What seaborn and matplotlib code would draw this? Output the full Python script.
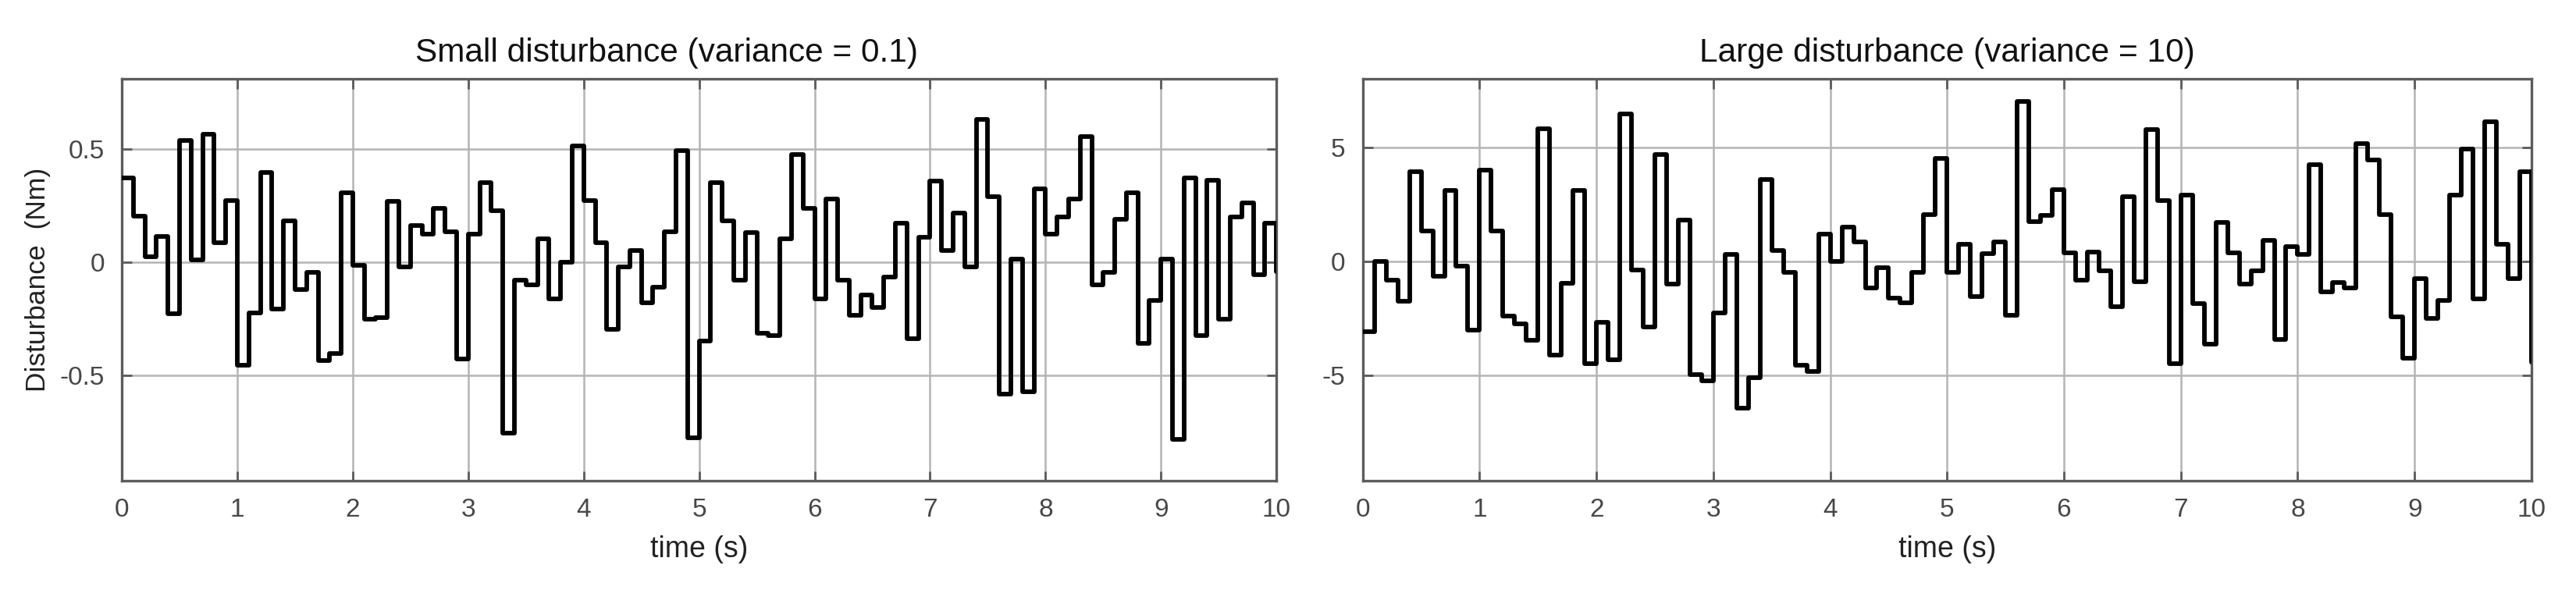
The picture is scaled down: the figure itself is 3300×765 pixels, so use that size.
import numpy as np
import pandas as pd
import matplotlib
matplotlib.use("Agg")
import matplotlib.pyplot as plt
import seaborn as sns

# ---- data (one value per 0.1 s step, plus final point at t=10) ----
small_dist = [0.371, 0.202, 0.023, 0.115, -0.226, 0.538, 0.011, 0.567, 0.087, 0.271,
              -0.456, -0.224, 0.398, -0.207, 0.182, -0.12, -0.046, -0.433, -0.402, 0.306,
              -0.014, -0.253, -0.244, 0.268, -0.02, 0.164, 0.124, 0.237, 0.133, -0.428,
              0.124, 0.352, 0.228, -0.755, -0.08, -0.1, 0.103, -0.163, 0.0, 0.513,
              0.271, 0.087, -0.295, -0.02, 0.053, -0.18, -0.111, 0.133, 0.492, -0.775,
              -0.347, 0.352, 0.182, -0.08, 0.13, -0.315, -0.324, 0.103, 0.475, 0.237,
              -0.163, 0.279, -0.08, -0.234, -0.146, -0.198, -0.066, 0.172, -0.338, 0.11,
              0.36, 0.053, 0.216, -0.02, 0.632, 0.291, -0.583, 0.015, -0.571, 0.325,
              0.124, 0.199, 0.279, 0.555, -0.1, -0.046, 0.191, 0.306, -0.359, -0.169,
              0.015, -0.784, 0.371, -0.324, 0.363, -0.253, 0.199, 0.264, -0.054, 0.172, -0.04]

large_dist = [-3.08, 0.0, -0.81, -1.73, 3.94, 1.35, -0.65, 3.12, -0.2, -3.02,
              4.01, 1.35, -2.38, -2.73, -3.44, 5.8, -4.11, -0.96, 3.12, -4.46,
              -2.67, -4.29, 6.48, -0.38, -2.85, 4.68, -1.0, 1.82, -4.96, -5.23,
              -2.26, 0.33, -6.43, -5.08, 3.58, 0.5, -0.46, -4.53, -4.81, 1.19,
              0.0, 1.5, 0.86, -1.16, -0.26, -1.61, -1.82, -0.49, 2.06, 4.53,
              -0.46, 0.76, -1.55, 0.36, 0.86, -2.37, 7.03, 1.74, 2.01, 3.15,
              0.39, -0.81, 0.41, -0.41, -1.99, 2.83, -0.9, 5.78, 2.68, -4.46,
              2.92, -1.85, -3.61, 1.7, 0.39, -1.0, -0.41, 0.92, -3.43, 0.65,
              0.33, 4.24, -1.32, -0.93, -1.16, 5.18, 4.44, 2.06, -2.43, -4.25,
              -0.76, -2.49, -1.7, 2.92, 4.92, -1.63, 6.12, 0.76, -0.73, 3.92, -4.4]

time_s = np.round(np.arange(len(small_dist)) * 0.1, 1)

x_ticks = list(range(0, 11))
small_yticks = [-0.5, 0, 0.5]
large_yticks = [-5, 0, 5]
small_yticklabels = ["-0.5", "0", "0.5"]
large_yticklabels = ["-5", "0", "5"]

titles = ["Small disturbance (variance = 0.1)", "Large disturbance (variance = 10)"]

# ---- style ----
sns.set_theme(style="white")
plt.rcParams["font.family"] = ["Liberation Sans", "DejaVu Sans"]

fig = plt.figure(figsize=(33, 7.65), dpi=100)
ax1 = fig.add_axes([0.0473, 0.1948, 0.4482, 0.673])
ax2 = fig.add_axes([0.529, 0.1948, 0.4537, 0.673])

spine_c = "#5c5c5c"
grid_c = "#b4b4b4"
lab_c = "#474747"

panels = [
    (ax1, small_dist, (-0.965, 0.81), small_yticks, small_yticklabels, titles[0]),
    (ax2, large_dist, (-9.6, 8.0), large_yticks, large_yticklabels, titles[1]),
]

for ax, vals, ylim, yt, ytl, ttl in panels:
    df = pd.DataFrame({"time": time_s, "value": vals})
    sns.lineplot(data=df, x="time", y="value", ax=ax, color="black",
                 linewidth=4.2, drawstyle="steps-post", estimator=None,
                 legend=False, zorder=3)
    ax.set_xlim(0, 10)
    ax.set_ylim(*ylim)
    ax.set_xticks(x_ticks)
    ax.set_xticklabels([str(t) for t in x_ticks])
    ax.set_yticks(yt)
    ax.set_yticklabels(ytl)
    ax.grid(True, color=grid_c, linewidth=1.8, zorder=0)
    ax.set_axisbelow(True)
    for s in ax.spines.values():
        s.set_visible(True)
        s.set_color(spine_c)
        s.set_linewidth(2.4)
    ax.tick_params(axis="both", which="major", direction="in", length=9, width=2,
                   color=spine_c, labelcolor=lab_c, labelsize=24, pad=16,
                   top=True, right=True, bottom=True, left=True,
                   labeltop=False, labelright=False)
    ax.set_title(ttl, fontsize=30.5, color="#111111", pad=16)
    ax.set_xlabel("time (s)", fontsize=27, color="#222222", labelpad=12)
    ax.set_ylabel("")

# left title sits slightly left of the axes centre in the reference
ax1.title.set_x(0.472)

ax1.set_ylabel("Disturbance  (Nm)", fontsize=25.5, color="#222222", labelpad=8)

fig.savefig("out.png", dpi=100, facecolor="white")
